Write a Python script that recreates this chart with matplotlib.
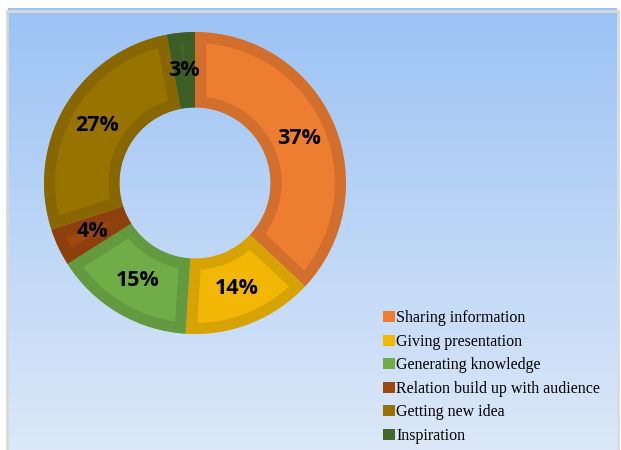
import numpy as np
import matplotlib.pyplot as plt
from matplotlib.colors import LinearSegmentedColormap, to_rgb
from matplotlib.patches import Rectangle

labels = ['Sharing information', 'Giving presentation', 'Generating knowledge',
          'Relation build up with audience', 'Getting new idea', 'Inspiration']
values = [37, 14, 15, 4, 27, 3]
colors = ['#ED7D31', '#F2B705', '#70AD47', '#9E480E', '#997300', '#43682B']

fig = plt.figure(figsize=(6.21, 4.5), dpi=100)
fig.patch.set_facecolor('white')

# gradient background
bg = fig.add_axes([8 / 621, 0, 609 / 621, 442 / 450])
grad = LinearSegmentedColormap.from_list('bg', ['#DCE8F8', '#9CC3F5'])
bg.imshow(np.linspace(0, 1, 256).reshape(-1, 1), aspect='auto', cmap=grad,
          origin='lower', extent=[0, 1, 0, 1])
bg.set_axis_off()
fig.add_artist(Rectangle((7 / 621, -0.01), 611 / 621, 443.5 / 450,
                         transform=fig.transFigure, fill=False,
                         edgecolor='#D9D9D9', linewidth=2))

# donut
ax = fig.add_axes([44 / 621, 1 - 334 / 450, 302 / 621, 302 / 450])
ax.set_facecolor('none')
wedges, texts, autotexts = ax.pie(
    values, colors=colors, startangle=90, counterclock=False,
    wedgeprops=dict(width=0.5), autopct='%1.0f%%', pctdistance=0.75,
    textprops=dict(fontsize=15.5, fontweight='bold', family='Open Sans'))
# darker inner border on each slice (stroke clipped to the slice itself)
for w, c in zip(wedges, colors):
    dark = tuple(v * 0.89 for v in to_rgb(c))
    w.set_edgecolor(dark)
    w.set_linewidth(16)
    w.set_clip_on(True)
    w.set_clip_path(w)
ax.set_xlim(-1, 1)
ax.set_ylim(-1, 1)
ax.set_aspect('equal')

leg = fig.legend(wedges, labels, loc='upper left', bbox_to_anchor=(377 / 621, 1 - 304 / 450),
                 frameon=False, prop=dict(family='Liberation Serif', size=11.5),
                 handlelength=0.7, handleheight=0.7, handletextpad=0.1,
                 labelspacing=0.47, borderaxespad=0)
for h, c in zip(leg.legend_handles, colors):
    h.set_linewidth(0)
    h.set_facecolor(c)

fig.savefig('out.png', dpi=100)
